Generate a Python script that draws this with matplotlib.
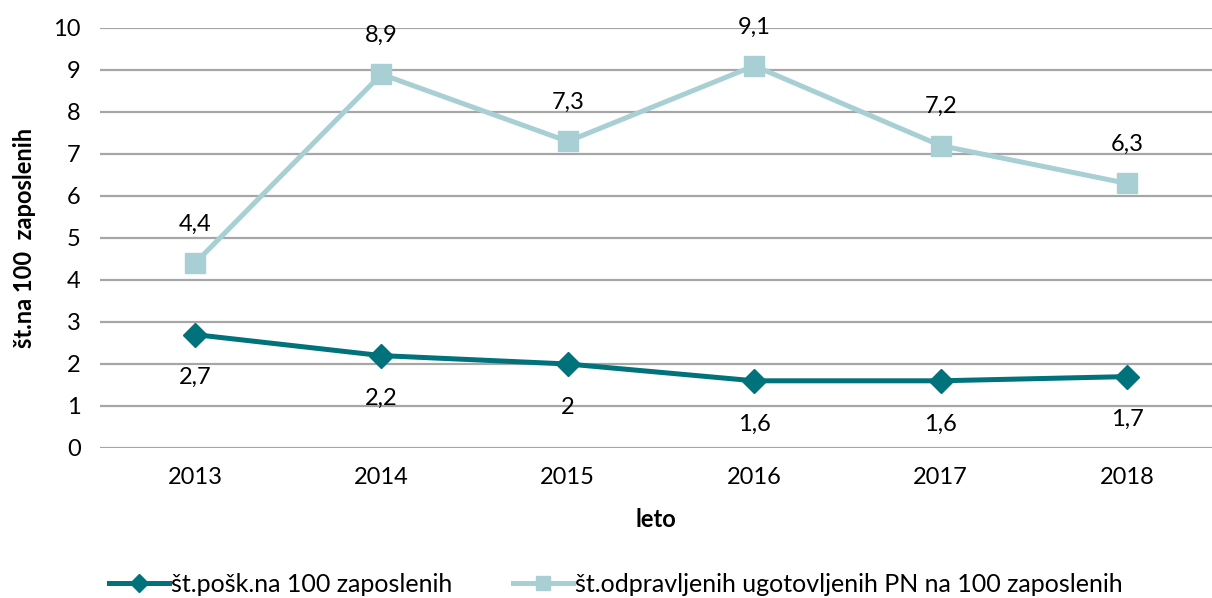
import matplotlib
matplotlib.use("Agg")
import matplotlib.pyplot as plt

years = ["2013", "2014", "2015", "2016", "2017", "2018"]
posk = [2.7, 2.2, 2.0, 1.6, 1.6, 1.7]
posk_labels = ["2,7", "2,2", "2", "1,6", "1,6", "1,7"]
pn = [4.4, 8.9, 7.3, 9.1, 7.2, 6.3]
pn_labels = ["4,4", "8,9", "7,3", "9,1", "7,2", "6,3"]
name_posk = "št.pošk.na 100 zaposlenih"
name_pn = "št.odpravljenih ugotovljenih PN na 100 zaposlenih"
yticks = list(range(0, 11))

plt.rcParams['font.family'] = ['Lato', 'DejaVu Sans']

W, H = 1212, 598
fig = plt.figure(figsize=(W / 100, H / 100), dpi=100)
ax = fig.add_axes([100 / W, (H - 448) / H, (W - 100) / W, (448 - 28) / H])

dark = "#00727C"
light = "#A7CFD4"
x = list(range(len(years)))
fs = 17

ax.plot(x, posk, color=dark, lw=3.6, marker="D", markersize=12, label=name_posk, zorder=3)
ax.plot(x, pn, color=light, lw=3.6, marker="s", markersize=14, label=name_pn, zorder=3)

for xi, v, t in zip(x, pn, pn_labels):
    ax.annotate(t, (xi, v), xytext=(0, 28), textcoords="offset points",
                ha="center", va="center", fontsize=fs, color="black")
for xi, v, t in zip(x, posk, posk_labels):
    ax.annotate(t, (xi, v), xytext=(0, -31), textcoords="offset points",
                ha="center", va="center", fontsize=fs, color="black")

ax.set_xlim((100 - 195) / 186.4, (W - 195) / 186.4)
ax.set_ylim(0, 10)
ax.set_yticks(yticks)
ax.set_xticks(x)
ax.set_xticklabels(years)
ax.tick_params(axis="both", length=0, labelsize=fs)
ax.tick_params(axis="y", pad=14)
ax.tick_params(axis="x", pad=14)
ax.grid(axis="y", color="#A6A6A6", lw=1.6)
ax.set_axisbelow(True)
for s in ax.spines.values():
    s.set_visible(False)

ax.set_xlabel("leto", fontsize=fs, fontweight="bold", labelpad=14)
ax.set_ylabel("št.na 100  zaposlenih", fontsize=fs, fontweight="bold", labelpad=12)

fig.legend(loc="center", bbox_to_anchor=(0.508, (H - 584) / H), ncol=2, frameon=False,
           fontsize=18, handlelength=2.4, columnspacing=2.4, handletextpad=0.1,
           markerscale=0.75)

fig.savefig("out.png", dpi=100)
